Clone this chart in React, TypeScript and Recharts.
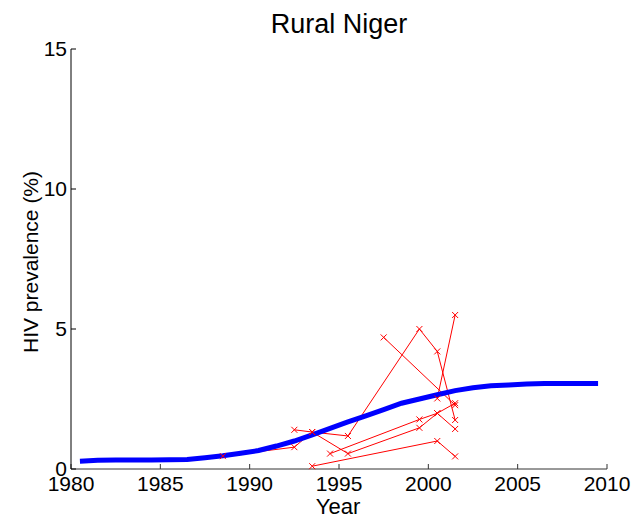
import React from "react"
import { ComposedChart, Line, Scatter, XAxis, YAxis } from "recharts"

// model curve (blue)
const modelYears = [1980.5, 1981.5, 1982.5, 1983.5, 1984.5, 1985.5, 1986.5, 1987.5, 1988.5, 1989.5, 1990.5, 1991.5, 1992.5, 1993.5, 1994.5, 1995.5, 1996.5, 1997.5, 1998.5, 1999.5, 2000.5, 2001.5, 2002.5, 2003.5, 2004.5, 2005.5, 2006.5, 2007.5, 2008.5, 2009.5]
const modelValues = [0.28, 0.31, 0.32, 0.32, 0.32, 0.33, 0.34, 0.4, 0.47, 0.56, 0.66, 0.82, 1.0, 1.22, 1.45, 1.68, 1.9, 2.12, 2.35, 2.5, 2.65, 2.8, 2.9, 2.97, 3.0, 3.04, 3.05, 3.05, 3.05, 3.05]

// antenatal clinic sites (red)
const site1Years = [1988.5, 1992.5, 1993.5, 1995.5, 1999.5, 2000.5, 2001.5]
const site1Values = [0.46, 0.78, 1.32, 0.55, 1.47, 1.99, 1.43]
const site2Years = [1992.5, 1993.5, 1995.5, 1999.5, 2000.5, 2001.5]
const site2Values = [1.4, 1.32, 1.18, 5.0, 4.2, 1.75]
const site3Years = [1994.5, 1999.5, 2000.5, 2001.5]
const site3Values = [0.55, 1.77, 1.99, 2.35]
const site4Years = [1993.5, 2000.5, 2001.5]
const site4Values = [0.1, 1.0, 0.45]
const site5Years = [1997.5, 2001.5]
const site5Values = [4.7, 2.28]
const site6Years = [2000.5, 2001.5]
const site6Values = [2.52, 5.5]

const xTicks = [1980, 1985, 1990, 1995, 2000, 2005, 2010]
const yTicks = [0, 5, 10, 15]

const toPoints = (xs: number[], ys: number[]) => xs.map((x, i) => ({ x, y: ys[i] }))

const modelData = toPoints(modelYears, modelValues)
const sites = [
  toPoints(site1Years, site1Values),
  toPoints(site2Years, site2Values),
  toPoints(site3Years, site3Values),
  toPoints(site4Years, site4Values),
  toPoints(site5Years, site5Values),
  toPoints(site6Years, site6Values),
]

const Cross = (props: any) => {
  const { cx, cy } = props
  if (cx == null || cy == null) return null
  const s = 3
  return (
    <path
      d={`M${cx - s},${cy - s}L${cx + s},${cy + s}M${cx - s},${cy + s}L${cx + s},${cy - s}`}
      stroke="#ff0000"
      strokeWidth={1}
      fill="none"
    />
  )
}

const font = "'Liberation Sans', Arial, sans-serif"

export default function App() {
  return (
    <div style={{ position: "absolute", left: 0, top: 0, width: 633, height: 519, background: "#fff", fontFamily: font }}>
      <ComposedChart width={633} height={519} margin={{ top: 49, right: 26, left: 31, bottom: 20 }}>
        <XAxis
          dataKey="x"
          type="number"
          domain={[1980, 2010]}
          ticks={xTicks}
          interval={0}
          tickSize={-5}
          tickMargin={12}
          height={30}
          stroke="#333"
          tick={{ fill: "#000", fontSize: 21, fontFamily: font }}
          allowDuplicatedCategory={false}
        />
        <YAxis
          type="number"
          domain={[0, 15]}
          ticks={yTicks}
          interval={0}
          tickSize={-5}
          tickMargin={9}
          width={40}
          stroke="#000"
          tick={{ fill: "#000", fontSize: 21, fontFamily: font }}
        />
        {sites.map((d, i) => (
          <Line
            key={`l${i}`}
            data={d}
            dataKey="y"
            type="linear"
            stroke="#ff0000"
            strokeWidth={1}
            dot={false}
            activeDot={false}
            isAnimationActive={false}
          />
        ))}
        <Line
          data={modelData}
          dataKey="y"
          type="linear"
          stroke="#0000ff"
          strokeWidth={5}
          dot={false}
          activeDot={false}
          isAnimationActive={false}
        />
        {sites.map((d, i) => (
          <Scatter key={`s${i}`} data={d} dataKey="y" shape={<Cross />} isAnimationActive={false} />
        ))}
      </ComposedChart>
      <svg width={633} height={519} style={{ position: "absolute", left: 0, top: 0, pointerEvents: "none" }}>
        <text x={339} y={33} textAnchor="middle" fontSize={27} fontFamily={font} fill="#000">Rural Niger</text>
        <text x={338} y={514} textAnchor="middle" fontSize={22} fontFamily={font} fill="#000">Year</text>
        <text transform="translate(38,262) rotate(-90)" textAnchor="middle" fontSize={21} fontFamily={font} fill="#000">HIV prevalence (%)</text>
      </svg>
    </div>
  )
}
